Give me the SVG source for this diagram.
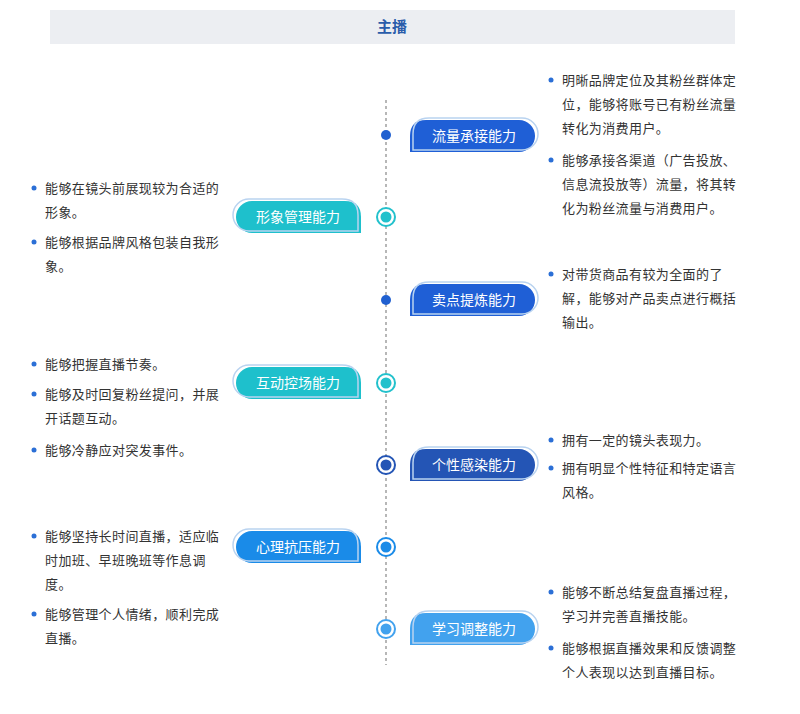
<svg xmlns="http://www.w3.org/2000/svg" width="800" height="714" viewBox="0 0 800 714">
<style>
.t{font-family:"Noto Sans CJK SC","Noto Sans",sans-serif;font-size:13px;fill:#333;letter-spacing:0.4px}
.lb{font-family:"Noto Sans CJK SC",sans-serif;font-size:14px;fill:#fff;text-anchor:middle}
.b{fill:#2b6fd6}
.ol{fill:none;stroke:#b9d3f0;stroke-width:1.5}
</style>
<defs>
<path id="R" d="M0,32 L0,16 Q0,0 16,0 L109,0 A16,16 0 0 1 109,32 Z"/>
<path id="L" d="M125,32 L125,16 Q125,0 109,0 L16,0 A16,16 0 0 0 16,32 Z"/>
</defs>
<rect x="50" y="10" width="685" height="34" fill="#eceef2"/>
<text x="392" y="32" font-family="Noto Sans CJK SC,sans-serif" font-size="15" font-weight="bold" fill="#2a5caa" text-anchor="middle">主播</text>
<g id="connectors"><line x1="386" y1="100" x2="386" y2="665" stroke="#888" stroke-width="1.2" stroke-dasharray="3,3"/></g>
<g id="dots">
<circle cx="386" cy="135" r="5" fill="#2060d0"/>
<circle cx="386" cy="217" r="9" fill="#fff" stroke="#22c1cc" stroke-width="2"/><circle cx="386" cy="217" r="5.5" fill="#22c1cc"/>
<circle cx="386" cy="300" r="5" fill="#2060d0"/>
<circle cx="386" cy="383" r="9" fill="#fff" stroke="#22c1cc" stroke-width="2"/><circle cx="386" cy="383" r="5.5" fill="#22c1cc"/>
<circle cx="386" cy="465" r="9" fill="#fff" stroke="#2455b5" stroke-width="2"/><circle cx="386" cy="465" r="5.5" fill="#2455b5"/>
<circle cx="386" cy="547" r="9" fill="#fff" stroke="#1a8be8" stroke-width="2"/><circle cx="386" cy="547" r="5.5" fill="#1a8be8"/>
<circle cx="386" cy="629" r="9" fill="#fff" stroke="#42a2ee" stroke-width="2"/><circle cx="386" cy="629" r="5.5" fill="#42a2ee"/>
</g>
<g id="n1" transform="translate(410,120)"><use href="#R" fill="#1f5fd6"/><use href="#R" class="ol" transform="translate(3,-2)"/><text class="lb" x="64" y="21">流量承接能力</text></g>
<g id="n2" transform="translate(236,201)"><use href="#L" fill="#1ec0cc"/><use href="#L" class="ol" transform="translate(-3,-2)"/><text class="lb" x="62" y="21">形象管理能力</text></g>
<g id="n3" transform="translate(410,284)"><use href="#R" fill="#1f5fd6"/><use href="#R" class="ol" transform="translate(3,-2)"/><text class="lb" x="64" y="21">卖点提炼能力</text></g>
<g id="n4" transform="translate(236,367)"><use href="#L" fill="#1ec0cc"/><use href="#L" class="ol" transform="translate(-3,-2)"/><text class="lb" x="62" y="21">互动控场能力</text></g>
<g id="n5" transform="translate(410,449)"><use href="#R" fill="#2455b5"/><use href="#R" class="ol" transform="translate(3,-2)"/><text class="lb" x="64" y="21">个性感染能力</text></g>
<g id="n6" transform="translate(236,531)"><use href="#L" fill="#1a8be8"/><use href="#L" class="ol" transform="translate(-3,-2)"/><text class="lb" x="62" y="21">心理抗压能力</text></g>
<g id="n7" transform="translate(410,613)"><use href="#R" fill="#42a2ee"/><use href="#R" class="ol" transform="translate(3,-2)"/><text class="lb" x="64" y="21">学习调整能力</text></g>
<g id="texts">
<circle class="b" cx="551" cy="80" r="2.5"/><text class="t" x="562" y="85">明晰品牌定位及其粉丝群体定</text>
<text class="t" x="562" y="109">位，能够将账号已有粉丝流量</text>
<text class="t" x="562" y="133">转化为消费用户。</text>
<circle class="b" cx="551" cy="160" r="2.5"/><text class="t" x="562" y="165">能够承接各渠道（广告投放、</text>
<text class="t" x="562" y="189">信息流投放等）流量，将其转</text>
<text class="t" x="562" y="213">化为粉丝流量与消费用户。</text>
<circle class="b" cx="551" cy="274" r="2.5"/><text class="t" x="562" y="279">对带货商品有较为全面的了</text>
<text class="t" x="562" y="303">解，能够对产品卖点进行概括</text>
<text class="t" x="562" y="327">输出。</text>
<circle class="b" cx="551" cy="440" r="2.5"/><text class="t" x="562" y="445">拥有一定的镜头表现力。</text>
<circle class="b" cx="551" cy="468" r="2.5"/><text class="t" x="562" y="473">拥有明显个性特征和特定语言</text>
<text class="t" x="562" y="497">风格。</text>
<circle class="b" cx="551" cy="592" r="2.5"/><text class="t" x="562" y="597">能够不断总结复盘直播过程，</text>
<text class="t" x="562" y="621">学习并完善直播技能。</text>
<circle class="b" cx="551" cy="648" r="2.5"/><text class="t" x="562" y="653">能够根据直播效果和反馈调整</text>
<text class="t" x="562" y="677">个人表现以达到直播目标。</text>
<circle class="b" cx="34" cy="188" r="2.5"/><text class="t" x="45" y="193">能够在镜头前展现较为合适的</text>
<text class="t" x="45" y="217">形象。</text>
<circle class="b" cx="34" cy="242" r="2.5"/><text class="t" x="45" y="247">能够根据品牌风格包装自我形</text>
<text class="t" x="45" y="271">象。</text>
<circle class="b" cx="34" cy="364" r="2.5"/><text class="t" x="45" y="369">能够把握直播节奏。</text>
<circle class="b" cx="34" cy="394" r="2.5"/><text class="t" x="45" y="399">能够及时回复粉丝提问，并展</text>
<text class="t" x="45" y="423">开话题互动。</text>
<circle class="b" cx="34" cy="450" r="2.5"/><text class="t" x="45" y="455">能够冷静应对突发事件。</text>
<circle class="b" cx="34" cy="536" r="2.5"/><text class="t" x="45" y="541">能够坚持长时间直播，适应临</text>
<text class="t" x="45" y="565">时加班、早班晚班等作息调</text>
<text class="t" x="45" y="589">度。</text>
<circle class="b" cx="34" cy="614" r="2.5"/><text class="t" x="45" y="619">能够管理个人情绪，顺利完成</text>
<text class="t" x="45" y="643">直播。</text>
</g>
</svg>
